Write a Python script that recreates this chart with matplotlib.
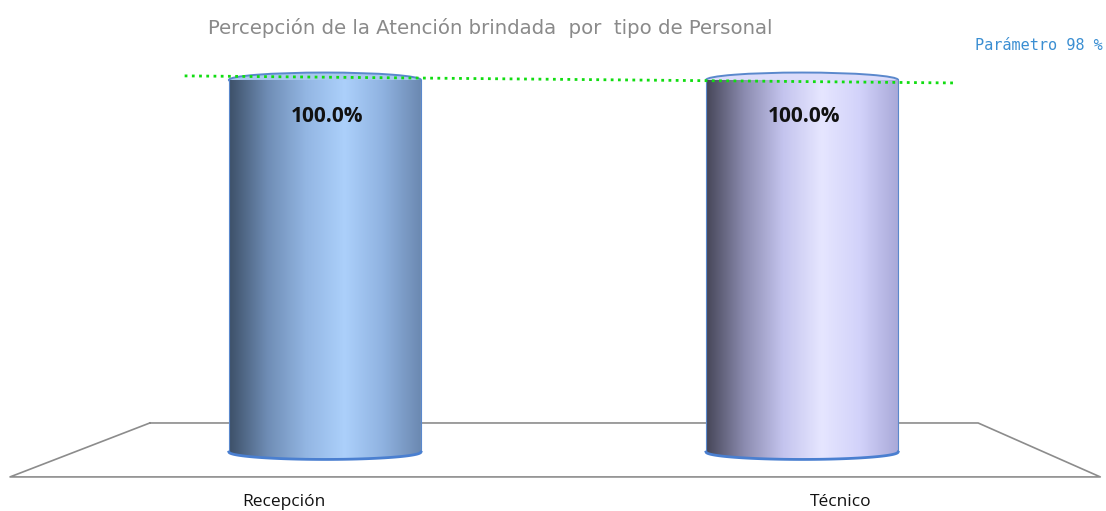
import matplotlib.pyplot as plt
import numpy as np
from matplotlib.colors import LinearSegmentedColormap
from matplotlib.patches import Ellipse, Polygon

categories = ['Recepción', 'Técnico']
values = [100.0, 100.0]
parametro = 98

title = 'Percepción de la Atención brindada  por  tipo de Personal'

# gradient stops for each cylinder (left -> right)
grads = [
    ['#3d5068', '#6f8db5', '#93b6e3', '#acd0fb', '#8fb2e0', '#6b88b0'],
    ['#464658', '#8c8cb0', '#c4c4ee', '#e6e6ff', '#d2d2fa', '#a8a8d8'],
]
tops = ['#a9c8ee', '#dcdcfa']
edge = '#5a88cc'

fig = plt.figure(figsize=(11.06, 5.11), dpi=100)
ax = fig.add_axes([0, 0, 1, 1])
ax.axis('off')

w = 0.4025
eh = 2.0
x = np.arange(len(categories))

# floor
ax.plot([-0.367, 1.369, 1.625, -0.660, -0.367], [7.8, 7.8, -6.7, -6.7, 7.8],
        color='#8c8c8c', lw=1.2, zorder=1)

t = np.linspace(np.pi, 2 * np.pi, 60)
for i, v in enumerate(values):
    cx = x[i]
    xs = cx + w / 2 * np.cos(t)
    ys = eh * np.sin(t)
    # top face first, the body covers its front half
    ax.add_patch(Ellipse((cx, v), w, 2 * eh, facecolor=tops[i], edgecolor=edge,
                         lw=1.4, zorder=2))
    pts = np.column_stack([np.r_[cx - w / 2, xs, cx + w / 2],
                           np.r_[v, ys, v]])
    body = Polygon(pts, closed=True, facecolor='none', edgecolor='none', zorder=3)
    ax.add_patch(body)
    cmap = LinearSegmentedColormap.from_list('c%d' % i, grads[i])
    img = ax.imshow(np.linspace(0, 1, 256)[None, :], cmap=cmap, aspect='auto',
                    extent=[cx - w / 2, cx + w / 2, -eh, v], zorder=3)
    img.set_clip_path(body)
    ax.plot([cx - w / 2, cx - w / 2], [0, v], color=edge, lw=0.8, zorder=4)
    ax.plot([cx + w / 2, cx + w / 2], [0, v], color=edge, lw=0.8, zorder=4)
    ax.plot(xs, ys, color='#4a7fd0', lw=2.0, zorder=4)
    ax.text(cx + 0.004, v - 9.8, '%.1f%%' % v, ha='center', va='center',
            fontsize=15, fontweight='bold', family='Open Sans', color='#111111', zorder=6)

# parameter line (slightly tilted by the perspective)
ax.plot([-0.294, 1.321], [parametro + 3.1, parametro + 1.2], color='#11dd11',
        lw=2, ls=(0, (1, 1.6)), zorder=5)

ax.text(1.637 - 0.006, 109.2, 'Parámetro %d %%' % parametro, ha='right', va='center',
        fontsize=11, family='DejaVu Sans Mono', color='#3a8ed2')

label_dx = [-0.086, 0.08]
for i, c in enumerate(categories):
    ax.text(x[i] + label_dx[i], -13.4, c, ha='center', va='center',
            fontsize=12.5, family='Open Sans', color='#111111')

ax.text(0.347, 114.0, title, ha='center', va='center', fontsize=14.2,
        color='#8a8a8a', family='DejaVu Sans')

ax.set_xlim(-0.681, 1.637)
ax.set_ylim(-15.86, 121.5)

fig.savefig('out.png', dpi=100)
